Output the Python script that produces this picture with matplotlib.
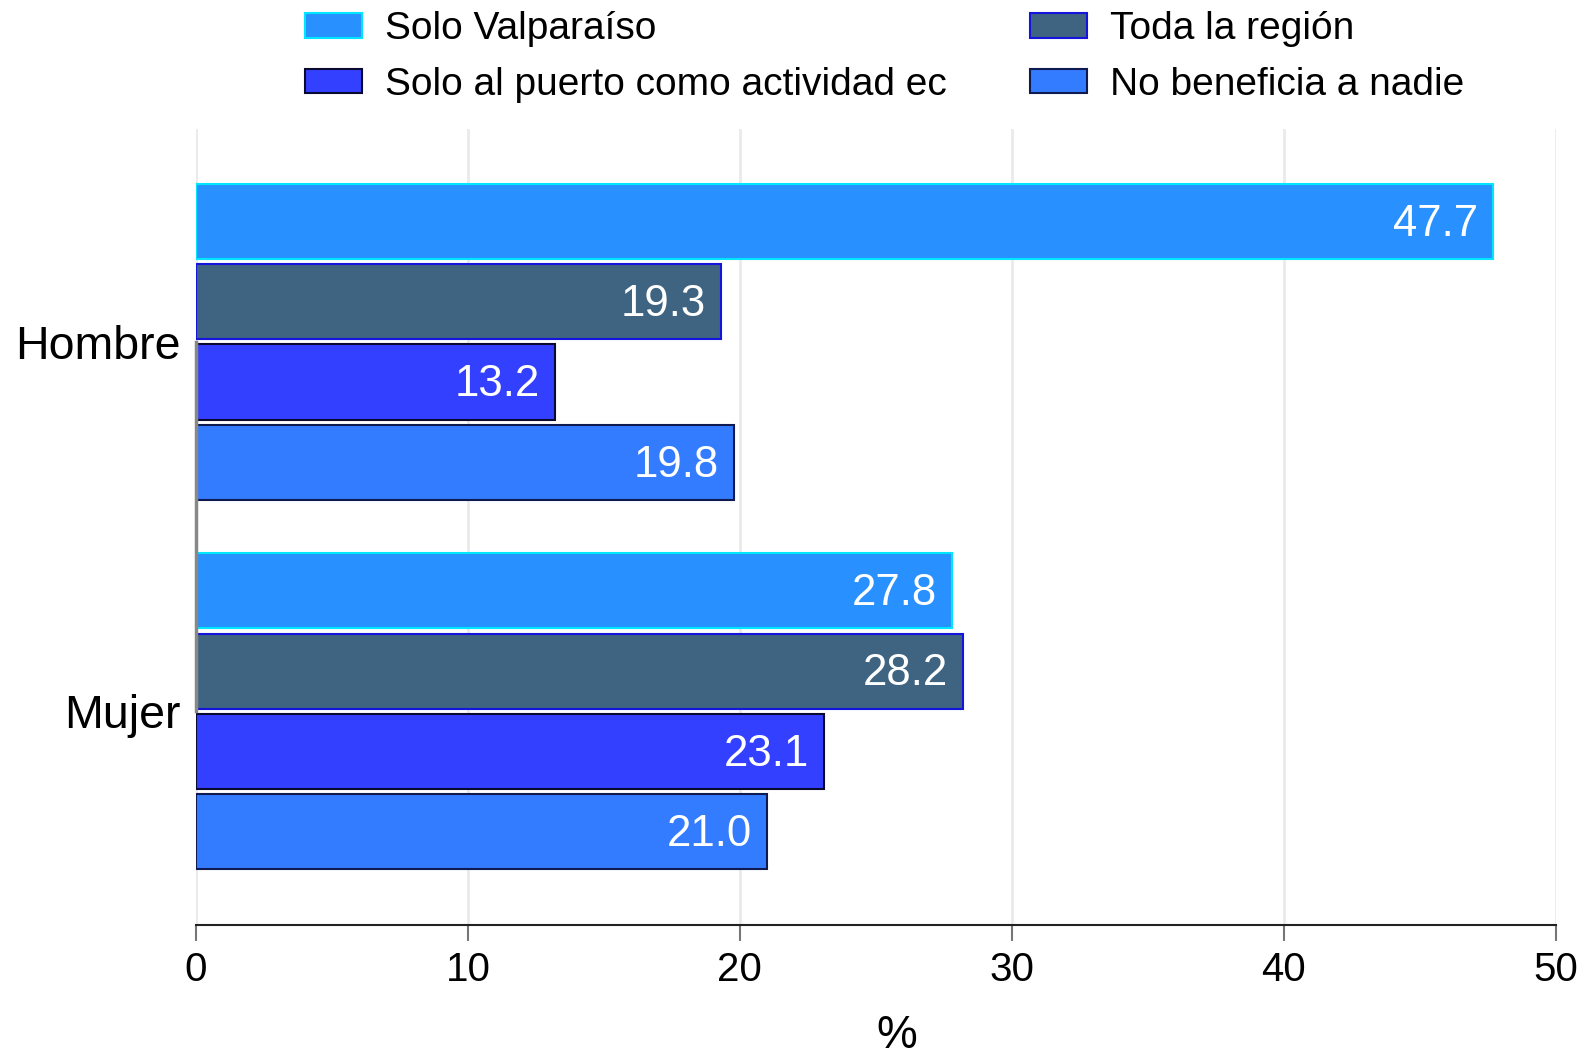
import matplotlib
matplotlib.use("Agg")
import matplotlib.pyplot as plt
import numpy as np

plt.rcParams['font.family'] = ['Liberation Sans', 'DejaVu Sans']

groups = ["Hombre", "Mujer"]
series = ["Solo Valparaíso", "Toda la región", "Solo al puerto como actividad ec", "No beneficia a nadie"]
values = {
    "Solo Valparaíso": [47.7, 27.8],
    "Toda la región": [19.3, 28.2],
    "Solo al puerto como actividad ec": [13.2, 23.1],
    "No beneficia a nadie": [19.8, 21.0],
}
xticks = [0, 10, 20, 30, 40, 50]

faces = ["#2891FF", "#3E6482", "#3340FF", "#337CFF"]
edges = ["#00E6FF", "#1414DC", "#0A0A30", "#0E1A50"]

fig = plt.figure(figsize=(15.94, 10.57), dpi=100)
ax = fig.add_axes([0.123, 0.125, 0.853, 0.753])

ypos = np.arange(len(groups))
step = 0.2173
height = 0.2036
handles = []
for i, s in enumerate(series):
    off = (i - 1.5) * step
    bars = ax.barh(ypos + off, values[s], height=height, color=faces[i],
                   edgecolor=edges[i], linewidth=1.5, label=s, zorder=3)
    handles.append(bars)
    for b, v in zip(bars, values[s]):
        ax.annotate(f"{v:.1f}", xy=(v, b.get_y() + b.get_height() / 2),
                    xytext=(-11, -2), textcoords="offset points",
                    ha="right", va="center", color="white", fontsize=31.5, zorder=4)

ax.set_xlim(0, 50)
ax.set_ylim(1.578, -0.576)
ax.set_xticks(xticks)
ax.set_xticklabels([str(t) for t in xticks])
ax.set_yticks(ypos)
ax.set_yticklabels(groups)
ax.tick_params(axis="y", length=0, labelsize=33.5, pad=11)
ax.tick_params(axis="x", length=11.5, width=1.5, color="#777777", labelsize=29, pad=7)
ax.grid(axis="x", color="#EAEAEA", linewidth=2, zorder=0)
for sp in ["top", "right"]:
    ax.spines[sp].set_visible(False)
ax.spines["bottom"].set_linewidth(1.5)
ax.spines["bottom"].set_color("#222222")
ax.spines["left"].set_bounds(0, 1)
ax.spines["left"].set_color("#888888")
ax.spines["left"].set_linewidth(2.5)
ax.spines["left"].set_zorder(3.5)
ax.set_xlabel("%", fontsize=33, labelpad=18, x=0.515)

order = [0, 2, 1, 3]
fig.legend([handles[k] for k in order], [series[k] for k in order],
           loc="center", bbox_to_anchor=(0.555, 0.946), ncol=2, frameon=False,
           fontsize=28, handlelength=1.45, handleheight=0.6, handletextpad=0.6,
           columnspacing=2.15, labelspacing=0.5)

fig.savefig("out.png", dpi=100)
